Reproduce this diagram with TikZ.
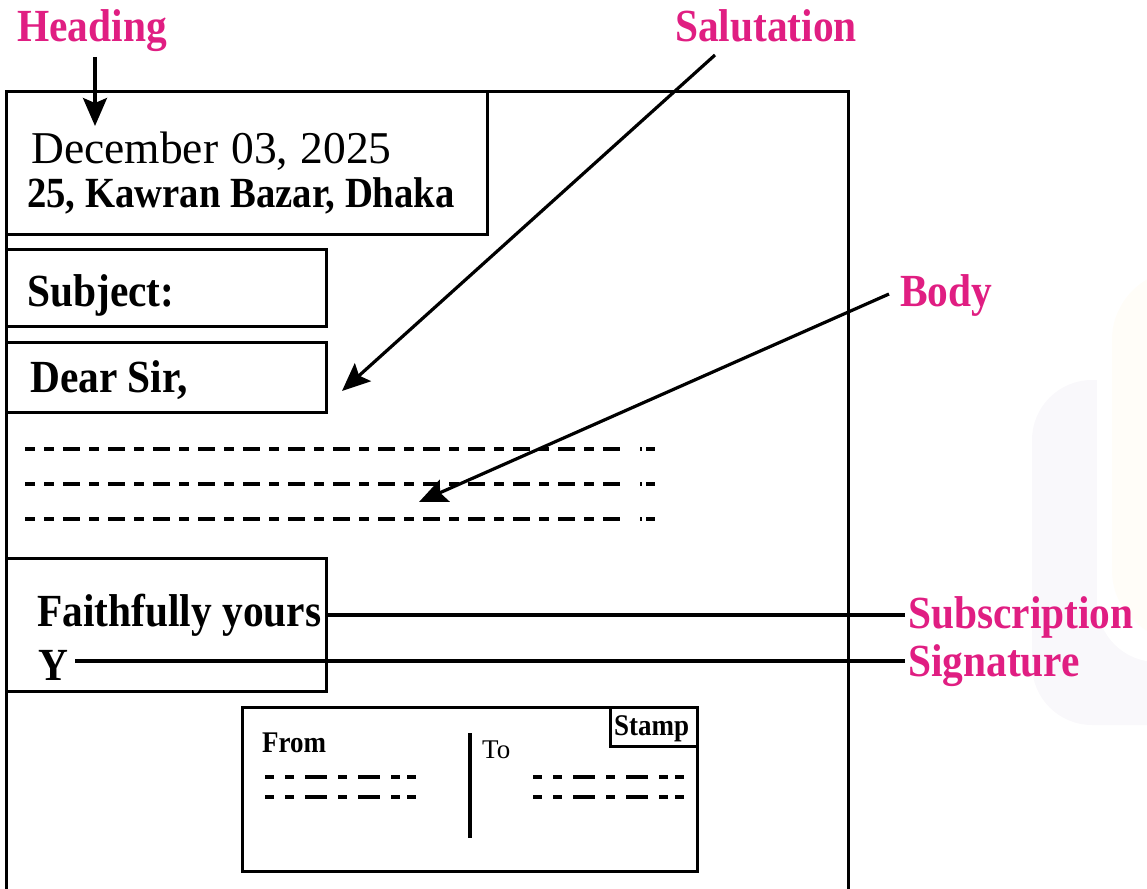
\documentclass[tikz,border=0pt]{standalone}
\usepackage{fontspec}
\setmainfont{Liberation Serif}
\newfontfamily\cb{Liberation Serif}[FakeStretch=0.9]
\usetikzlibrary{arrows.meta}
\definecolor{labelpink}{RGB}{224,30,130}
\definecolor{wmlav}{RGB}{249,248,251}
\definecolor{wmcream}{RGB}{255,253,248}
\tikzset{
  lbl/.style={font=\cb\bfseries\fontsize{46}{50}\selectfont, text=labelpink, anchor=base west, inner sep=0pt},
  txt/.style={font=\cb\bfseries\fontsize{46}{50}\selectfont, anchor=base west, inner sep=0pt},
  addr/.style={font=\cb\bfseries\fontsize{43}{48}\selectfont, anchor=base west, inner sep=0pt},
  datetxt/.style={font=\fontsize{45.5}{50}\selectfont, anchor=base west, inner sep=0pt},
  envb/.style={font=\cb\bfseries\fontsize{30}{34}\selectfont, anchor=base west, inner sep=0pt},
  envr/.style={font=\fontsize{27}{30}\selectfont, anchor=base west, inner sep=0pt},
  box/.style={draw, line width=3pt},
  ptr/.style={line width=3.2pt, -{Stealth[length=28pt,width=24pt,inset=5pt]}},
  lead/.style={line width=3.2pt},
  bodyline/.style={line width=3.6pt, dash pattern=on 10pt off 9pt on 17pt off 9pt},
  envline/.style={line width=3.6pt, dash pattern=on 9pt off 11pt on 9pt off 11pt on 22pt off 11pt on 9pt off 11pt on 22pt off 11pt on 9pt off 7pt on 9pt off 40pt}
}
\begin{document}
\begin{tikzpicture}[x=1pt,y=-1pt]
\useasboundingbox (0,0) rectangle (1147,888);
% faint watermark
\begin{scope}
  \clip (0,0) rectangle (1147,888);
  \fill[wmlav, rounded corners=60] (1400,380) -- (1032,380) -- (1032,725) -- (1400,725) -- cycle;
  \fill[white, rounded corners=60] (1097,300) -- (1097,662) -- (1400,662) -- (1400,300) -- cycle;
  \fill[wmcream, rounded corners=70] (1112,270) -- (1112,640) -- (1400,640) -- (1400,270) -- cycle;
\end{scope}
% letter frame and boxes
\draw[box] (6,92) rectangle (848,890);
\draw[box] (6,92) rectangle (487,234);
\draw[box] (6,249) rectangle (326,326);
\draw[box] (6,342) rectangle (326,412);
\draw[box] (6,558) rectangle (326,691);
% body dashed lines
\foreach \yy in {449,484,519}{
  \draw[line width=3.6pt] (25,\yy) -- (35,\yy);
  \draw[bodyline] (44,\yy) -- (625,\yy);
  \draw[line width=3.6pt] (640,\yy) -- (642,\yy);
  \draw[line width=3.6pt] (646,\yy) -- (655,\yy);
}
% envelope
\draw[box] (242,707) rectangle (697,871);
\draw[box] (610,707) rectangle (697,746);
\draw[line width=3.2pt] (470,733) -- (470,838);
\draw[envline] (265,777) -- (420,777);
\draw[envline] (265,797) -- (420,797);
\draw[envline] (533,777) -- (688,777);
\draw[envline] (533,797) -- (688,797);
% texts
\node[datetxt] (date) at (31,163) {December\hspace{2pt} 03,\hspace{1pt} 2025};
\node[addr] (addr) at (27,207) {25, Kawran Bazar, Dhaka};
\node[txt] (subj) at (27,306) {Subject:};
\node[txt] (dear) at (30,392) {Dear Sir,};
\node[txt] (faith) at (37,626) {Faithfully yours};
\node[txt] (sig) at (38,680) {Y};
\node[envb] (from) at (262,752) {From};
\node[envr] (to) at (482,758) {To};
\node[envb] (stamp) at (614,735) {Stamp};
% labels
\node[lbl] (heading) at (17,42) {Heading};
\node[lbl] (salut) at (675,42) {Salutation};
\node[lbl] (body) at (900,306) {Body};
\node[lbl] (subscr) at (908,628) {Subscription};
\node[lbl] (signat) at (908,676) {Signature};
% connector end points
\coordinate (hdA) at (95,57);
\coordinate (hdB) at (95,126);
\coordinate (saA) at (715,55);
\coordinate (saB) at (342,391);
\coordinate (boA) at (889,294);
\coordinate (boB) at (419,502);
\coordinate (suA) at (328,615);
\coordinate (suB) at (905,615);
\coordinate (siA) at (75,661);
\coordinate (siB) at (905,661);
\draw[ptr] (hdA) -- (hdB);
\draw[ptr] (saA) -- (saB);
\draw[ptr] (boA) -- (boB);
\draw[lead] (suA) -- (suB);
\draw[lead] (siA) -- (siB);
\end{tikzpicture}
\end{document}
